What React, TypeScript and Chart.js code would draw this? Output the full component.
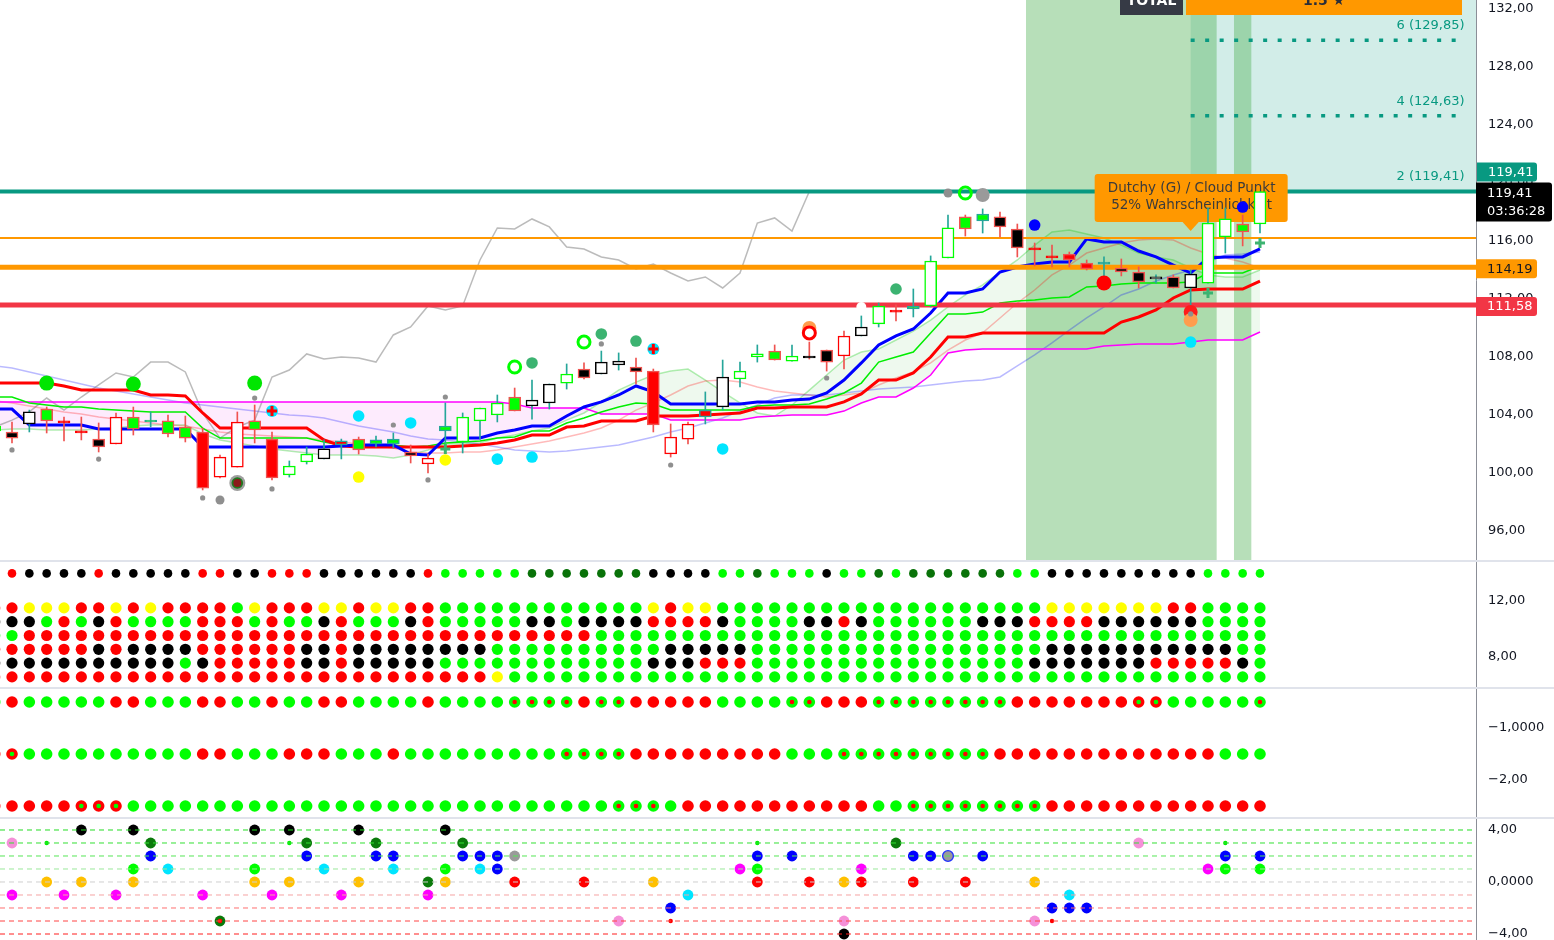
import React, { useEffect, useRef } from 'react';
import { Chart, registerables } from 'chart.js';

Chart.register(...registerables);

// ================= DATA =================
const FIRST_BAR = -1; // first (partly hidden) bar index

// candle kinds: hg hollow green, hb hollow black, hr hollow red, rf red, bk black/red, gr green/red,
// gt green/teal, rt red/teal, rd red doji, td teal doji, kd black doji
const candleKind = ['hg','bk','hb','gr','rd','rd','bk','hr','gr','gt','gr','gr','rf','hr','hr','gr','rf','hg','hg','hb','rt','gr','gt','gt','bk','hr','gt','hg','hg','hg','gr','hb','hb','hg','bk','hb','hb','bk','rf','hr','hr','rt','hb','hg','hg','gr','hg','kd','bk','hr','hb','hg','rd','gt','hg','hg','gr','gt','bk','bk','rd','rd','rf','rf','td','bk','bk','hb','bk','hb','hg','hg','gr','hg'];
const open = [102.9,102.83,103.38,104.41,103.59,102.9,102.34,103.86,103.86,103.52,103.59,103.17,102.83,101.1,103.52,103.59,102.34,99.86,100.76,100.97,102.21,102.34,102.0,102.0,101.45,101.03,102.9,102.14,103.59,104.0,105.24,104.62,104.83,106.2,107.17,106.83,107.45,107.31,107.03,102.48,103.38,104.34,104.55,106.48,108.0,108.41,107.72,108.07,108.48,109.45,109.45,110.28,111.24,111.31,111.52,114.83,117.66,117.38,117.66,116.83,115.52,114.97,115.1,114.48,114.55,114.14,113.86,113.38,113.52,112.76,113.1,116.28,117.17,117.17];
const high = [103.38,103.52,104.34,104.55,103.86,103.86,103.45,104.14,104.55,104.21,104.0,103.93,103.1,101.24,104.21,104.69,102.83,100.83,101.79,102.28,102.34,102.48,102.55,102.76,101.93,101.31,104.83,104.14,104.48,105.38,105.86,106.41,106.14,107.52,107.59,108.41,108.28,107.93,107.17,103.38,103.52,105.59,107.79,107.65,108.83,108.83,108.83,109.03,108.48,109.79,110.83,111.72,111.59,112.69,114.97,117.79,117.79,118.21,118.0,117.17,115.86,115.72,115.24,114.69,114.9,114.76,114.21,113.66,113.66,114.0,118.28,118.28,117.79,119.41];
const low = [102.69,102.07,102.83,102.76,102.21,102.28,101.45,102.0,102.62,103.17,102.48,102.14,98.83,99.66,100.41,102.07,99.52,99.72,100.62,100.97,100.97,101.31,101.79,101.72,100.69,100.0,102.07,101.38,102.34,103.52,104.28,103.72,104.41,105.79,106.48,106.83,107.1,106.14,102.83,101.1,102.0,103.38,104.34,105.93,107.65,107.79,107.72,107.86,107.03,107.17,109.45,110.07,110.48,110.76,111.45,114.83,116.34,116.55,116.28,114.9,114.28,114.21,114.21,114.0,113.59,113.59,112.76,113.1,112.76,110.76,113.1,115.17,115.66,116.55];
const close = [103.24,102.41,104.21,103.59,103.45,102.76,101.79,102.0,103.03,103.65,102.69,102.41,98.96,99.72,100.41,102.97,99.66,100.48,101.31,101.66,101.93,101.59,102.28,102.34,101.17,100.62,103.24,103.86,104.48,104.83,104.28,105.03,106.14,106.83,106.55,107.65,107.72,106.97,103.31,101.31,102.34,103.86,106.62,107.03,108.21,107.79,108.07,107.93,107.65,108.07,110.07,111.52,111.1,111.52,114.62,116.9,116.83,117.86,116.97,115.52,115.38,114.83,114.69,114.07,114.41,113.86,113.17,113.52,112.76,113.72,117.24,117.52,116.62,119.41];

// indicator lines (bar -1 .. 72)
const convLine = [104.41,104.41,103.31,103.31,103.31,103.31,103.03,103.03,103.03,103.03,103.03,103.03,101.79,101.79,101.79,101.79,101.79,101.79,101.79,101.79,101.86,101.93,101.93,101.93,101.31,101.24,102.41,102.41,102.41,102.76,102.97,103.24,103.24,103.93,104.55,104.9,105.38,106.0,105.59,104.76,104.76,104.76,104.76,104.76,104.9,104.9,105.03,105.1,105.52,106.41,107.59,108.83,109.45,109.93,111.03,112.41,112.41,112.69,113.86,114.21,114.41,114.55,114.55,116.14,115.93,115.93,115.31,114.9,114.34,113.79,114.83,114.9,114.9,115.45];
const baseLine = [106.2,106.2,106.2,106.2,106.0,105.72,105.72,105.72,105.72,105.38,105.38,105.31,104.14,103.1,103.1,103.1,103.1,103.1,103.1,102.28,101.86,101.79,101.79,101.79,101.79,101.79,101.79,101.86,101.93,102.07,102.28,102.62,102.62,103.17,103.24,103.59,103.59,103.59,103.93,103.93,103.93,104.0,104.07,104.14,104.48,104.48,104.55,104.55,104.55,104.9,105.45,106.41,106.41,106.9,108.0,109.38,109.38,109.66,109.66,109.66,109.66,109.66,109.66,109.66,109.66,110.41,110.76,111.24,112.07,112.62,112.69,112.69,112.69,113.24];
const fastLine = [105.24,105.24,104.83,104.69,104.55,104.55,104.41,104.34,104.28,104.21,104.21,104.21,103.1,102.41,102.41,102.41,102.41,102.41,102.41,102.14,101.93,101.93,101.93,101.93,101.79,101.86,102.07,102.14,102.21,102.41,102.48,102.9,102.9,103.45,103.79,104.21,104.55,104.83,104.76,104.34,104.34,104.34,104.34,104.34,104.62,104.69,104.69,104.76,105.1,105.52,106.2,107.65,108.0,108.34,109.66,110.97,110.97,111.1,111.72,111.86,111.93,112.07,112.14,112.83,112.9,113.03,113.1,113.1,113.1,113.17,113.79,113.79,113.79,114.28];
const cloudLine = [104.9,104.9,104.9,104.9,104.9,104.9,104.9,104.9,104.9,104.9,104.9,104.9,104.9,104.9,104.9,104.9,104.9,104.9,104.9,104.9,104.9,104.9,104.9,104.9,104.9,104.9,104.9,104.9,104.9,104.9,104.76,104.48,104.48,104.48,104.48,104.07,104.07,104.07,104.07,103.65,103.65,103.65,103.65,103.65,103.86,103.93,104.0,104.0,104.0,104.27,104.83,105.24,105.24,105.86,106.76,108.28,108.48,108.55,108.55,108.55,108.55,108.55,108.55,108.55,108.76,108.83,108.9,108.9,108.9,109.03,109.17,109.17,109.17,109.72];
const spanA = [102.97,103.03,103.03,102.97,102.97,102.97,103.03,103.1,103.24,103.31,103.31,103.31,102.69,102.28,102.07,101.86,101.66,101.52,101.38,101.24,101.24,101.24,101.17,101.03,101.24,101.59,102.0,102.0,102.07,102.41,102.62,102.9,103.1,103.65,104.14,104.9,105.72,106.27,106.76,107.03,107.17,106.41,105.59,104.83,104.14,103.93,104.69,105.72,106.76,107.79,108.34,108.55,109.17,109.79,110.55,111.45,112.28,112.97,113.86,114.69,115.72,116.62,116.76,116.48,116.21,115.72,115.17,114.9,114.69,114.14,113.66,113.52,113.52,114.0];
const spanB = [104.97,104.83,104.62,104.41,104.21,104.07,103.86,103.72,103.59,103.45,103.31,103.24,103.03,102.83,102.69,102.62,102.55,102.48,102.41,102.28,102.14,102.0,101.86,101.72,101.45,101.38,101.38,101.45,101.45,101.59,101.79,102.0,102.21,102.48,102.76,103.1,103.65,104.34,104.83,105.38,106.0,106.34,106.41,106.27,105.93,105.65,105.52,105.38,105.24,105.38,105.52,106.07,106.55,106.97,107.59,108.48,109.17,109.66,110.69,111.72,112.62,113.66,114.34,115.17,115.52,115.86,116.07,116.14,116.07,115.52,115.1,114.83,114.55,114.14];
const slowLine = [107.38,107.24,106.97,106.69,106.41,106.14,105.86,105.66,105.45,105.24,105.03,104.83,104.69,104.55,104.41,104.28,104.14,104.0,103.93,103.79,103.52,103.24,103.03,102.83,102.55,102.34,102.28,102.14,102.0,101.79,101.59,101.52,101.45,101.52,101.66,101.79,101.93,102.21,102.48,102.83,103.1,103.45,103.79,104.28,104.69,105.17,105.38,105.38,105.38,105.52,105.66,105.79,105.86,105.93,106.07,106.2,106.34,106.41,106.62,107.38,108.14,108.97,109.86,110.69,111.45,112.28,112.69,113.24,113.66,114.0,114.55,115.03,115.1,115.24];
const laggingLine = [103.17,103.65,104.21,105.17,104.34,105.24,106.07,106.9,106.62,107.65,107.65,106.97,104.14,102.41,103.17,103.65,106.62,107.1,108.21,107.86,108.0,107.93,107.65,109.52,110.07,111.52,111.24,111.52,114.69,116.9,116.83,117.52,116.97,115.59,115.45,114.9,114.69,114.07,114.41,113.79,113.24,113.52,112.76,113.79,117.24,117.59,116.69,119.41];

// horizontal levels, targets, zones
const levelPrices = [119.41, 116.2, 114.19, 111.58];
const targetPrices = [119.41, 124.63, 129.85];
const targetRR = [2, 4, 6];
const signalZones: [number, number][] = [[58.5, 69.5], [70.5, 71.5]];
const targetZoneStart = 68;
const targetLineEnd = 83.8;
const lastPrice = 119.41;
const countdown = '03:36:28';
const priceTicks = [96, 100, 104, 108, 112, 116, 120, 124, 128, 132];
const noteLines = ['Dutchy (G) / Cloud Punkt', '52% Wahrscheinlichkeit'];
const noteBar = 68;
const noteTipPrice = 116.69;
const headerLabels = ['TOTAL', '1.5 ★'];

// chart markers: [bar, price]
const greyDots = [[0,101.59],[5,100.96],[11,98.28],[14,105.17],[15,98.9],[22,103.31],[24,99.52],[25,105.24],[34,108.9],[38,100.55],[47,106.55]];
const greyLarge = [[12,98.14],[54,119.31]];
const greyDrop = [[56,119.17]];
const greyOnBall = [[68,110.97]];
const limeDots = [[2,106.2],[7,106.14],[14,106.2]];
const cyanDots = [[20,103.93],[23,103.45],[28,100.96],[30,101.1],[41,101.66],[68,109.03]];
const cyanCross = [[15,104.28],[37,108.55]];
const yellowDots = [[20,99.72],[25,100.9]];
const mixedDots = [[13,99.31]];
const plusMarks = [[25,101.66],[69,112.41],[72,115.86]];
const seaDots = [[30,107.59],[34,109.59],[36,109.1],[51,112.69]];
const greenRings = [[29,107.31],[33,109.03],[55,119.31]];
const alertRings = [[46,109.66]];
const alertGlow = [[46,110.0]];
const whiteDots = [[49,111.45]];
const blueDots = [[59,117.1],[71,118.34]];
const redBig = [[63,113.1]];
const redBall = [[68,111.1]];
const orangeBall = [[68,110.55]];

// panel 2 (trend matrix), run-length rows from bar -1
const p2TopRow: [string, number][] = [['.',1],['R',1],['K',4],['R',1],['K',5],['R',2],['K',2],['R',3],['K',6],['R',1],['G',5],['D',7],['K',4],['G',2],['D',1],['G',3],['K',1],['G',2],['D',1],['G',1],['D',6],['G',2],['K',9],['G',4]];
const p2RowA: [string, number][] = [['R',2],['Y',3],['R',2],['Y',1],['R',1],['Y',1],['R',4],['G',1],['Y',1],['R',3],['Y',2],['R',1],['Y',2],['R',2],['G',12],['Y',1],['R',1],['Y',2],['G',19],['Y',7],['R',2],['G',4]];
const p2RowB: [string, number][] = [['K',3],['G',1],['R',1],['G',1],['K',1],['R',1],['G',4],['R',3],['G',1],['R',1],['G',2],['K',1],['R',1],['G',3],['K',1],['R',1],['G',5],['K',2],['G',1],['K',4],['R',4],['K',1],['G',4],['K',2],['R',1],['K',1],['G',6],['K',3],['R',4],['K',6],['G',4]];
const p2RowC: [string, number][] = [['G',2],['R',33],['G',39]];
const p2RowD: [string, number][] = [['R',6],['K',1],['R',1],['K',4],['R',6],['K',2],['R',1],['K',8],['G',10],['K',5],['G',17],['K',11],['G',2]];
const p2RowE: [string, number][] = [['K',11],['G',1],['K',1],['R',5],['K',2],['R',1],['K',5],['G',12],['K',3],['R',3],['G',16],['K',7],['R',5],['K',1],['G',1]];
const p2RowF: [string, number][] = [['R',29],['Y',1],['G',44]];
const p2Levels = [14, 11.5, 10.5, 9.5, 8.5, 7.5, 6.5];

// panel 3 (three signal rows)
const p3Row1: [string, number][] = [['G',1],['R',1],['G',5],['R',2],['G',3],['R',2],['G',2],['R',1],['G',2],['R',2],['G',4],['R',1],['G',4],['X',4],['R',1],['X',2],['R',5],['G',4],['X',2],['R',3],['X',8],['R',7],['Z',2],['G',5],['X',1]];
const p3Row2: [string, number][] = [['R',1],['Z',1],['G',10],['R',2],['G',3],['R',3],['G',3],['R',1],['G',9],['X',4],['R',9],['G',3],['X',9],['R',13],['G',3]];
const p3Row3: [string, number][] = [['R',5],['Z',3],['G',28],['X',3],['G',1],['R',11],['G',2],['X',8],['R',13]];
const p3Levels = [-0.5, -1.5, -2.5];

// panel 4 (oscillator levels): [bar, code]
const osc4: [number, string][] = [[4,'K'],[7,'K'],[14,'K'],[16,'K'],[20,'K'],[25,'K']];
const osc3: [number, string][] = [[0,'P'],[2,'S'],[8,'D'],[16,'S'],[17,'D'],[21,'D'],[26,'D'],[43,'S'],[51,'D'],[65,'P'],[70,'S']];
const osc2: [number, string][] = [[8,'B'],[17,'B'],[21,'B'],[22,'B'],[26,'B'],[27,'B'],[28,'B'],[29,'E'],[43,'B'],[45,'B'],[52,'B'],[53,'B'],[54,'F'],[56,'B'],[70,'B'],[72,'B']];
const osc1: [number, string][] = [[7,'G'],[9,'C'],[14,'G'],[18,'C'],[22,'C'],[25,'G'],[27,'C'],[28,'B'],[42,'M'],[43,'G'],[49,'M'],[69,'M'],[70,'G'],[72,'G']];
const osc0: [number, string][] = [[-1,'A'],[2,'A'],[4,'A'],[7,'A'],[14,'A'],[16,'A'],[20,'A'],[24,'D'],[25,'A'],[29,'R'],[33,'R'],[37,'A'],[43,'R'],[46,'R'],[48,'A'],[49,'R'],[52,'R'],[55,'R'],[59,'A']];
const oscM1: [number, string][] = [[0,'M'],[3,'M'],[6,'M'],[11,'M'],[15,'M'],[19,'M'],[24,'M'],[39,'C'],[61,'C']];
const oscM2: [number, string][] = [[38,'B'],[60,'B'],[61,'B'],[62,'B']];
const oscM3: [number, string][] = [[12,'Q'],[35,'P'],[38,'s'],[48,'P'],[59,'P'],[60,'s']];
const oscM4: [number, string][] = [[48,'K']];
const oscRows = [osc4, osc3, osc2, osc1, osc0, oscM1, oscM2, oscM3, oscM4];
const oscLevels = [4, 3, 2, 1, 0, -1, -2, -3, -4];

// ================= STYLE / LAYOUT =================
const X_MIN = -0.6923;
const X_MAX = 84.462;
const FONT = 'DejaVu Sans';
const TEAL = '#089981';
const ORANGE = '#ff9800';
const RED_LVL = '#f23645';
const WICK_RED = '#ef5350';
const WICK_TEAL = '#26a69a';

const CANDLE_STYLE: Record<string, { fill: string; border: string; wick: string }> = {
  hg: { fill: '#ffffff', border: '#00ff00', wick: WICK_TEAL },
  hb: { fill: '#ffffff', border: '#000000', wick: WICK_TEAL },
  hr: { fill: '#ffffff', border: '#ff0000', wick: WICK_RED },
  rf: { fill: '#ff0000', border: WICK_RED, wick: WICK_RED },
  bk: { fill: '#000000', border: WICK_RED, wick: WICK_RED },
  gr: { fill: '#00ff00', border: WICK_RED, wick: WICK_RED },
  gt: { fill: '#00ff00', border: WICK_TEAL, wick: WICK_TEAL },
  rt: { fill: '#ff0000', border: WICK_TEAL, wick: WICK_TEAL },
  rd: { fill: '#ff0000', border: '#ff0000', wick: WICK_RED },
  td: { fill: WICK_TEAL, border: WICK_TEAL, wick: WICK_TEAL },
  kd: { fill: '#000000', border: '#000000', wick: WICK_RED },
};
const LEVEL_STYLE = [
  { color: TEAL, width: 4 },
  { color: ORANGE, width: 2 },
  { color: ORANGE, width: 5 },
  { color: RED_LVL, width: 5 },
];
const OSC_LINE_COLORS = ['#22dd22', '#33e033', '#55e655', '#9be89b', '#cfcfcf', '#f5a3a3', '#ff7070', '#ff4444', '#ff1f1f'];

const P23_PALETTE: Record<string, any> = {
  R: { c: '#ff0000' }, G: { c: '#00ff00' }, K: { c: '#000000' }, Y: { c: '#ffff00' }, D: { c: '#097209' },
  X: { c: '#00ff00', inner: '#ff0000' }, Z: { c: '#ff0000', inner: '#00ff00' },
};
const P4_PALETTE: Record<string, any> = {
  K: { c: '#000000' }, P: { c: '#f590d8' }, S: { c: '#00ee00', r: 2.2 }, D: { c: '#0b7a0b' }, B: { c: '#0000ff' },
  E: { c: '#9a9a9a' }, F: { c: '#9a9a9a', b: '#2233ff' }, G: { c: '#00ff00' }, C: { c: '#00e5ff' }, M: { c: '#ff00ff' },
  A: { c: '#ffc000' }, R: { c: '#ff0000' }, Q: { c: '#0b7a0b', inner: '#ff0000' }, s: { c: '#ff0000', r: 2.2 },
};

const fmt = (v: number) => v.toFixed(2).replace('.', ',');
const expandRuns = (runs: [string, number][]) => runs.flatMap(([c, n]) => Array.from({ length: n }, () => c));
const series = (vals: number[]) => vals.map((v, k) => ({ x: FIRST_BAR + k, y: v }));
const pts = (list: number[][]) => list.map(([i, p]) => ({ x: i, y: p }));
const spanLine = (v: number, a = X_MIN, b = X_MAX) => [{ x: a, y: v }, { x: b, y: v }];

function yAxis(min: number, max: number, ticks: number[], labels: string[]) {
  return {
    type: 'linear', position: 'right', min, max,
    grid: { display: false, drawTicks: false },
    border: { display: true, color: '#8b8e97', width: 1 },
    ticks: {
      padding: 12, color: '#131722', font: { family: FONT, size: 13 },
      callback: (v: number) => { const k = ticks.indexOf(v); return k >= 0 ? labels[k] : ''; },
    },
    afterBuildTicks: (s: any) => { s.ticks = ticks.map((v) => ({ value: v })); },
    afterFit: (s: any) => { s.width = 78; s.paddingTop = 0; s.paddingBottom = 0; s.paddingLeft = 0; s.paddingRight = 0; },
  };
}

function baseOptions(y: any) {
  return {
    responsive: false,
    animation: false,
    events: [],
    layout: { padding: 0, autoPadding: false },
    plugins: { legend: { display: false }, tooltip: { enabled: false } },
    scales: {
      x: { type: 'linear', min: X_MIN, max: X_MAX, display: false, offset: false, grid: { display: false } },
      y,
    },
  };
}

function markerSet(data: number[][], order: number, st: any) {
  return {
    type: 'scatter', data: pts(data), order,
    pointRadius: st.r, pointHoverRadius: st.r,
    pointStyle: st.style || 'circle',
    pointBackgroundColor: st.fill ?? 'rgba(0,0,0,0)',
    pointBorderColor: st.border ?? st.fill,
    pointBorderWidth: st.bw ?? 0,
  };
}

function priceDatasets() {
  const ds: any[] = [];
  const line = (label: string, data: any[], color: string, width: number, order: number, extra: any = {}) =>
    ds.push({ type: 'line', label, data, borderColor: color, borderWidth: width, pointRadius: 0, pointHoverRadius: 0, tension: 0, fill: false, order, ...extra });

  line('spanA', series(spanA), 'rgba(0,200,0,0.3)', 1.5, 100);
  line('spanB', series(spanB), 'rgba(255,0,0,0.27)', 1.5, 99);
  line('slow', series(slowLine), 'rgba(0,0,255,0.27)', 1.5, 98);
  line('lagging', series(laggingLine), 'rgba(120,120,120,0.5)', 1.5, 97);
  const cloudIdx = ds.length;
  line('cloud', series(cloudLine), '#ff00ff', 1.5, 96);
  ds[0].fill = { target: cloudIdx, above: 'rgba(0,160,0,0.065)', below: 'rgba(230,0,230,0.08)' };
  line('fast', series(fastLine), '#00ee00', 1.5, 95);
  line('base', series(baseLine), '#ff0000', 3, 94);
  line('conv', series(convLine), '#0000ff', 3, 93);
  levelPrices.forEach((p, k) => line('level' + k, spanLine(p), LEVEL_STYLE[k].color, LEVEL_STYLE[k].width, 92));
  targetPrices.slice(1).forEach((p, k) => line('target' + k, spanLine(p, targetZoneStart, targetLineEnd), TEAL, 3.5, 91, { borderDash: [4, 10.5] }));

  const kinds = candleKind.map((k) => CANDLE_STYLE[k]);
  ds.push({
    type: 'bar', label: 'wicks', order: 90, grouped: false, barThickness: 1,
    data: low.map((l, k) => ({ x: FIRST_BAR + k, y: [l, high[k]] })),
    backgroundColor: kinds.map((s) => s.wick), borderWidth: 0,
  });
  ds.push({
    type: 'bar', label: 'bodies', order: 89, grouped: false, barThickness: 12,
    data: open.map((o, k) => ({ x: FIRST_BAR + k, y: [Math.min(o, close[k]), Math.max(o, close[k])] })),
    backgroundColor: kinds.map((s) => s.fill), borderColor: kinds.map((s) => s.border), borderWidth: 1.5, borderSkipped: false,
  });

  let ord = 80;
  const m = (data: number[][], st: any) => ds.push(markerSet(data, ord--, st));
  m(greyDots, { r: 2.6, fill: '#8f8f8f' });
  m(greyLarge, { r: 4.5, fill: '#8f8f8f' });
  m(greyDrop, { r: 7, fill: '#9a9a9a' });
  m(limeDots, { r: 7.5, fill: '#00e600' });
  m(cyanDots, { r: 5.8, fill: '#00e5ff' });
  m(cyanCross, { r: 6, fill: '#00e5ff' });
  m(cyanCross, { r: 5, style: 'cross', border: '#ff0000', bw: 3 });
  m(yellowDots, { r: 5.8, fill: '#ffff00' });
  m(mixedDots, { r: 8, fill: '#9e9e9e' });
  m(mixedDots, { r: 5.8, fill: '#1f7a1f' });
  m(mixedDots, { r: 4, fill: '#8b1a1a' });
  m(plusMarks, { r: 5, style: 'cross', border: '#3cb371', bw: 3 });
  m(seaDots, { r: 5.8, fill: '#3cb371' });
  m(greenRings, { r: 6, fill: 'rgba(255,255,255,0)', border: '#00ff00', bw: 3 });
  m(alertGlow, { r: 7, fill: '#ff9d4d' });
  m(alertRings, { r: 6, fill: '#ffffff', border: '#ff0000', bw: 3 });
  m(whiteDots, { r: 5, fill: '#ffffff' });
  m(blueDots, { r: 5.8, fill: '#0000ff' });
  m(redBig, { r: 7.5, fill: '#ff0000' });
  m(redBall, { r: 7, fill: '#ff1a1a' });
  m(orangeBall, { r: 7, fill: '#ff9d4d' });
  m(greyOnBall, { r: 2.6, fill: '#8f8f8f' });
  return ds;
}

function badge(ctx: CanvasRenderingContext2D, x: number, y: number, w: number, h: number, bg: string, lines: string[], color: string) {
  ctx.fillStyle = bg;
  ctx.beginPath();
  (ctx as any).roundRect(x, y, w, h, [0, 3, 3, 0]);
  ctx.fill();
  ctx.fillStyle = color;
  ctx.textAlign = 'left';
  ctx.textBaseline = 'middle';
  lines.forEach((t, k) => ctx.fillText(t, x + 11, y + h / 2 + (k - (lines.length - 1) / 2) * 18 + 0.5));
}

const pricePlugin = {
  id: 'priceDecor',
  beforeDatasetsDraw(chart: any) {
    const { ctx, chartArea, scales } = chart;
    const x = scales.x, y = scales.y;
    ctx.save();
    const tx = x.getPixelForValue(targetZoneStart);
    const ty = y.getPixelForValue(targetPrices[0]);
    ctx.fillStyle = 'rgba(8,153,129,0.18)';
    ctx.fillRect(tx, chartArea.top, chartArea.right - tx, ty - chartArea.top);
    ctx.fillStyle = 'rgba(76,175,80,0.4)';
    signalZones.forEach(([a, b]) => {
      const x0 = x.getPixelForValue(a), x1 = x.getPixelForValue(b);
      ctx.fillRect(x0, chartArea.top, x1 - x0, chartArea.bottom - chartArea.top);
    });
    ctx.restore();
  },
  beforeDatasetDraw(chart: any, args: any) {
    if (chart.data.datasets[args.index].label !== 'wicks') return;
    const { ctx, scales } = chart;
    const cx = scales.x.getPixelForValue(noteBar);
    const tipY = scales.y.getPixelForValue(noteTipPrice);
    ctx.save();
    ctx.fillStyle = ORANGE;
    ctx.beginPath();
    ctx.roundRect(cx - 96, tipY - 57, 193, 48, 3);
    ctx.fill();
    ctx.beginPath();
    ctx.moveTo(cx - 9, tipY - 10);
    ctx.lineTo(cx + 9, tipY - 10);
    ctx.lineTo(cx, tipY);
    ctx.closePath();
    ctx.fill();
    ctx.fillStyle = '#3b3b3b';
    ctx.font = `13.5px "${FONT}"`;
    ctx.textAlign = 'center';
    ctx.textBaseline = 'middle';
    ctx.fillText(noteLines[0], cx + 1, tipY - 42);
    ctx.fillText(noteLines[1], cx + 1, tipY - 25);
    ctx.restore();
  },
  afterDraw(chart: any) {
    const { ctx, chartArea, scales } = chart;
    const x = scales.x, y = scales.y;
    ctx.save();
    // target labels
    ctx.font = `13px "${FONT}"`;
    ctx.textAlign = 'right';
    ctx.textBaseline = 'middle';
    ctx.fillStyle = TEAL;
    targetPrices.forEach((p, k) => ctx.fillText(`${targetRR[k]} (${fmt(p)})`, x.getPixelForValue(targetLineEnd), y.getPixelForValue(p) - 14.5));
    // header boxes (cut off at top)
    ctx.fillStyle = '#363a45';
    ctx.fillRect(1120, -10, 63, 25);
    ctx.fillStyle = ORANGE;
    ctx.fillRect(1186, -10, 276, 25);
    ctx.font = `bold 14px "${FONT}"`;
    ctx.textAlign = 'center';
    ctx.textBaseline = 'alphabetic';
    ctx.fillStyle = '#ffffff';
    ctx.fillText(headerLabels[0], 1151.5, 5);
    ctx.fillStyle = '#2a2e39';
    ctx.fillText(headerLabels[1], 1324, 5);
    // axis badges
    ctx.font = `13px "${FONT}"`;
    const ax = chartArea.right;
    const pLast = y.getPixelForValue(lastPrice);
    badge(ctx, ax + 1, pLast - 29, 60, 19, TEAL, [fmt(lastPrice)], '#ffffff');
    badge(ctx, ax, pLast - 9, 76, 39, '#000000', [fmt(lastPrice), countdown], '#ffffff');
    const pO = y.getPixelForValue(levelPrices[2]);
    badge(ctx, ax, pO - 8, 61, 19, ORANGE, [fmt(levelPrices[2])], '#131722');
    const pR = y.getPixelForValue(levelPrices[3]);
    badge(ctx, ax, pR - 8, 61, 19, RED_LVL, [fmt(levelPrices[3])], '#ffffff');
    ctx.restore();
  },
};

function buildDotDatasets(entries: { x: number; y: number; code: string; r: number }[], palette: Record<string, any>) {
  const groups = new Map<string, any>();
  const add = (key: string, r: number, color: string, border: string, bw: number, order: number, pt: any) => {
    if (!groups.has(key)) {
      groups.set(key, { type: 'scatter', data: [], order, pointRadius: r, pointHoverRadius: r, pointBackgroundColor: color, pointBorderColor: border, pointBorderWidth: bw });
    }
    groups.get(key).data.push(pt);
  };
  entries.forEach((e) => {
    const st = palette[e.code];
    if (!st) return;
    const r = st.r ?? e.r;
    add(`${e.code}|${r}`, r, st.c, st.b ?? st.c, st.b ? 1.3 : 0, 50, { x: e.x, y: e.y });
    if (st.inner) add(`${e.code}|inner`, 2.3, st.inner, st.inner, 0, 40, { x: e.x, y: e.y });
  });
  return [...groups.values()];
}

function matrixEntries(rows: [string, number][][], levels: number[], radii: number[]) {
  const out: any[] = [];
  rows.forEach((runs, ri) => {
    expandRuns(runs).forEach((code, k) => out.push({ x: FIRST_BAR + k, y: levels[ri], code, r: radii[ri] }));
  });
  return out;
}

export default function App() {
  const priceRef = useRef<HTMLCanvasElement>(null);
  const p2Ref = useRef<HTMLCanvasElement>(null);
  const p3Ref = useRef<HTMLCanvasElement>(null);
  const p4Ref = useRef<HTMLCanvasElement>(null);

  useEffect(() => {
    document.body.style.margin = '0';
    const charts: Chart[] = [];

    charts.push(new Chart(priceRef.current as HTMLCanvasElement, {
      type: 'line',
      data: { datasets: priceDatasets() },
      options: baseOptions(yAxis(94, 132.62, priceTicks, priceTicks.map(fmt))) as any,
      plugins: [pricePlugin],
    } as any));

    const p2 = buildDotDatasets(
      matrixEntries([p2TopRow, p2RowA, p2RowB, p2RowC, p2RowD, p2RowE, p2RowF], p2Levels, [4.3, 5.6, 5.6, 5.6, 5.6, 5.6, 5.6]),
      P23_PALETTE,
    );
    charts.push(new Chart(p2Ref.current as HTMLCanvasElement, {
      type: 'line', data: { datasets: p2 },
      options: baseOptions(yAxis(5.768, 14.826, [8, 12], ['8,00', '12,00'])) as any,
    } as any));

    const p3 = buildDotDatasets(matrixEntries([p3Row1, p3Row2, p3Row3], p3Levels, [5.8, 5.8, 5.8]), P23_PALETTE);
    charts.push(new Chart(p3Ref.current as HTMLCanvasElement, {
      type: 'line', data: { datasets: p3 },
      options: baseOptions(yAxis(-2.7115, -0.25, [-2, -1], ['\u22122,00', '\u22121,0000'])) as any,
    } as any));

    const oscEntries: any[] = [];
    oscRows.forEach((row, ri) => row.forEach(([i, code]) => oscEntries.push({ x: i, y: oscLevels[ri], code, r: 5.4 })));
    const p4: any[] = buildDotDatasets(oscEntries, P4_PALETTE);
    oscLevels.forEach((lv, k) => p4.push({
      type: 'line', data: spanLine(lv), borderColor: OSC_LINE_COLORS[k], borderWidth: 1, borderDash: [5, 4],
      pointRadius: 0, pointHoverRadius: 0, fill: false, order: 10,
    }));
    charts.push(new Chart(p4Ref.current as HTMLCanvasElement, {
      type: 'line', data: { datasets: p4 },
      options: baseOptions(yAxis(-4.4615, 4.846, [-4, 0, 4], ['\u22124,00', '0,0000', '4,00'])) as any,
    } as any));

    return () => charts.forEach((c) => c.destroy());
  }, []);

  const abs = (top: number): React.CSSProperties => ({ position: 'absolute', left: 0, top, display: 'block' });
  const sep = (top: number): React.CSSProperties => ({ position: 'absolute', left: 0, top, width: 1554, height: 2, background: '#e0e3eb' });

  return (
    <div style={{ position: 'relative', width: 1554, height: 940, background: '#ffffff', overflow: 'hidden' }}>
      <canvas ref={priceRef} width={1554} height={560} style={abs(0)} />
      <div style={sep(560)} />
      <canvas ref={p2Ref} width={1554} height={125} style={abs(562)} />
      <div style={sep(687)} />
      <canvas ref={p3Ref} width={1554} height={128} style={abs(689)} />
      <div style={sep(817)} />
      <canvas ref={p4Ref} width={1554} height={121} style={abs(819)} />
    </div>
  );
}
